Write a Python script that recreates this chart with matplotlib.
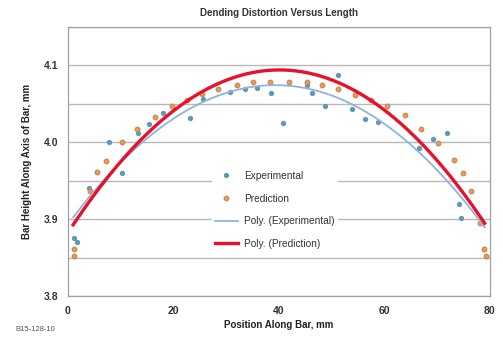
import numpy as np
import matplotlib
matplotlib.use("Agg")
import matplotlib.pyplot as plt
from matplotlib.ticker import MultipleLocator

plt.rcParams['font.family'] = ['Liberation Sans', 'DejaVu Sans']

title = "Dending Distortion Versus Length"
xlabel = "Position Along Bar, mm"
ylabel = "Bar Height Along Axis of Bar, mm"
note = "B15-128-10"

exp_x = [1.2, 1.8, 4.0, 5.5, 7.8, 10.2, 13.3, 15.4, 18.0, 23.1, 25.6, 30.7, 33.6, 35.8,
         38.5, 40.8, 45.3, 46.3, 48.7, 51.2, 53.8, 56.3, 58.8, 66.5, 69.2, 71.8, 74.1,
         74.6, 78.9]
exp_y = [3.875, 3.871, 3.940, 3.962, 4.000, 3.960, 4.012, 4.024, 4.038, 4.032, 4.057,
         4.065, 4.070, 4.071, 4.064, 4.025, 4.075, 4.064, 4.047, 4.088, 4.044, 4.031,
         4.027, 3.992, 4.004, 4.012, 3.920, 3.902, 3.861]

pred_x = [1.2, 1.2, 4.2, 5.5, 7.2, 10.2, 13.1, 16.5, 19.7, 22.5, 25.5, 28.5, 32.0, 35.1,
          38.3, 42.0, 45.3, 48.2, 51.2, 54.4, 57.5, 60.5, 63.9, 66.9, 70.1, 73.2, 74.9,
          76.4, 78.1, 78.9, 79.3]
pred_y = [3.861, 3.852, 3.937, 3.962, 3.976, 4.000, 4.017, 4.033, 4.047, 4.055, 4.063,
          4.069, 4.075, 4.078, 4.079, 4.078, 4.078, 4.075, 4.069, 4.062, 4.055, 4.047,
          4.035, 4.018, 3.999, 3.977, 3.960, 3.937, 3.895, 3.861, 3.852]

fig = plt.figure(figsize=(5.03, 3.38), dpi=100)
ax = fig.add_axes([0.135, 0.124, 0.839, 0.796])

ax.set_xlim(0, 80)
ax.set_ylim(3.8, 4.15)
ax.yaxis.set_major_locator(MultipleLocator(0.1))
ax.yaxis.set_minor_locator(MultipleLocator(0.05))
ax.xaxis.set_major_locator(MultipleLocator(20))
ax.grid(True, which='both', axis='y', color='#b8b8b8', lw=1.0)
ax.set_axisbelow(True)
for s in ax.spines.values():
    s.set_color('#a0a0a0')
    s.set_linewidth(0.9)
ax.tick_params(axis='both', which='both', length=0, labelsize=7.5, pad=7)
for lab in ax.get_xticklabels() + ax.get_yticklabels():
    lab.set_fontweight('bold')
    lab.set_color('#333333')

ax.plot(exp_x, exp_y, 'o', ms=2.8, color='#5f98b8', mec='#5f98b8', label='Experimental', zorder=3)
ax.plot(pred_x, pred_y, 'o', ms=3.2, color='#e8a060', mec='#d08a50', label='Prediction', zorder=3)

xs = np.linspace(1, 79, 200)
ce = np.polyfit(exp_x, exp_y, 2)
cp = np.polyfit(pred_x, pred_y, 2)
ax.plot(xs, np.polyval(ce, xs), color='#8fb4dc', lw=1.3, label='Poly. (Experimental)', zorder=4)
ax.plot(xs, np.polyval(cp, xs), color='#e8102a', lw=2.4, label='Poly. (Prediction)', zorder=5)

leg = ax.legend(loc='upper left', bbox_to_anchor=(0.33, 0.495), frameon=True, fontsize=7.3,
                facecolor='white', edgecolor='white', framealpha=1, borderpad=0.3,
                labelspacing=1.25, handlelength=2.2, handletextpad=0.6)
for t in leg.get_texts():
    t.set_color('#333333')

ax.set_title(title, fontsize=7, fontweight='bold', color='#333333', pad=8)
ax.set_xlabel(xlabel, fontsize=7, fontweight='bold', color='#222222', labelpad=3)
ax.set_ylabel(ylabel, fontsize=7, fontweight='bold', color='#222222', labelpad=8)
fig.text(0.03, 0.02, note, fontsize=5.5, color='#555555')

fig.savefig('out.png', dpi=100)
